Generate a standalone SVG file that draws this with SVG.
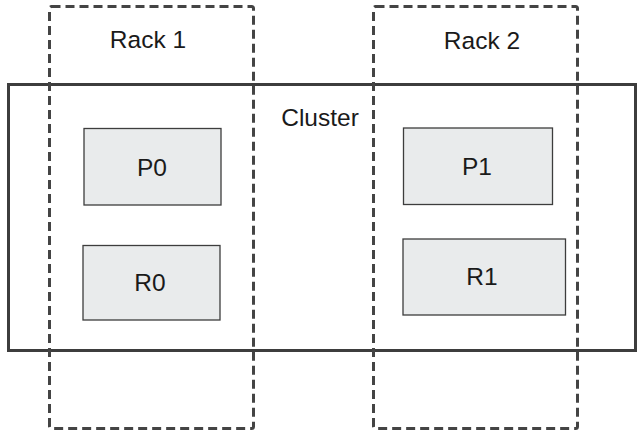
<svg xmlns="http://www.w3.org/2000/svg" width="640" height="432" viewBox="0 0 640 432">
<style>
.rack{fill:none;stroke:#444;stroke-width:3;stroke-dasharray:9,5;}
.cluster{fill:none;stroke:#3d3d3d;stroke-width:3;}
.box{fill:#e9ebec;stroke:#3d3d3d;stroke-width:1.3;}
text{font-family:"Liberation Sans",Arial,sans-serif;font-size:24.5px;fill:#1a1a1a;text-anchor:middle;}
</style>
<rect width="640" height="432" fill="#fff"/>
<g id="cluster">
<rect class="cluster" x="8.5" y="84.5" width="627" height="266"/>
<text x="320" y="126">Cluster</text>
</g>
<g id="rack1">
<rect class="rack" x="49.5" y="6.5" width="204" height="422" rx="2"/>
<text x="148" y="48">Rack 1</text>
</g>
<g id="rack2">
<rect class="rack" x="373.5" y="6.5" width="204" height="422" rx="2"/>
<text x="482" y="49">Rack 2</text>
</g>
<g id="P0">
<rect class="box" x="84" y="128.5" width="137" height="76.5"/>
<text x="152" y="175.5">P0</text>
</g>
<g id="R0">
<rect class="box" x="83" y="245.5" width="137" height="74.5"/>
<text x="150" y="291">R0</text>
</g>
<g id="P1">
<rect class="box" x="403.5" y="128" width="149" height="76.5"/>
<text x="477" y="175">P1</text>
</g>
<g id="R1">
<rect class="box" x="403" y="239" width="162.5" height="76"/>
<text x="482" y="285">R1</text>
</g>
<g id="connectors"></g>
</svg>
